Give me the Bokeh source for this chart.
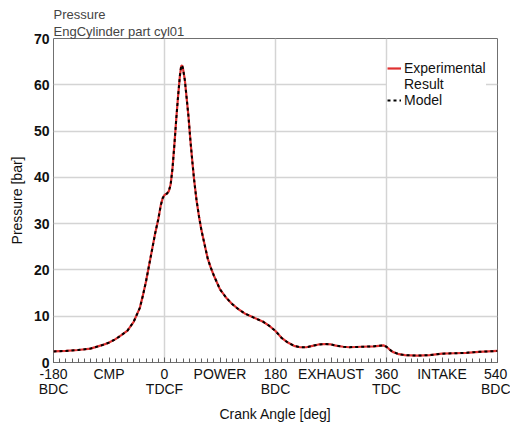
from bokeh.plotting import figure
from bokeh.models import FixedTicker, Legend, LegendItem, Range1d
from bokeh.embed import file_html
from bokeh.resources import INLINE

# Crank angle [deg] and pressure [bar]
crank_angle = [-180, -160, -140, -120, -100, -90, -80, -70, -60, -50, -40, -35, -30, -25,
               -20, -15, -10, -6, -3, 0, 4, 7, 10, 13, 16, 19, 22, 25, 27, 28.5, 30, 33,
               36, 39, 42, 45, 48, 52, 56, 60, 65, 70, 75, 80, 90, 100, 110, 120, 130, 140,
               150, 160, 170, 180, 190, 200, 210, 220, 230, 240, 250, 260, 270, 280, 290,
               300, 320, 340, 355, 360, 365, 370, 380, 390, 410, 430, 450, 470, 490, 510, 540]
experimental = [2.4, 2.5, 2.7, 3.0, 3.8, 4.3, 5.0, 5.9, 6.9, 8.8, 11.8, 14.5, 17.5, 21,
                24.5, 28, 31, 34, 35.5, 36.2, 36.5, 37, 38.5, 42, 47, 52.5, 57.5, 62, 64, 64.2, 63.5, 61,
                57, 53, 48, 43.6, 39.5, 35, 31.5, 28.5, 25.5, 22.5, 20.5, 18.8, 15.8, 14, 12.6, 11.5, 10.6, 10,
                9.4, 8.8, 7.9, 6.8, 5.3, 4.3, 3.6, 3.3, 3.3, 3.6, 3.9, 4.0, 3.9, 3.6, 3.4,
                3.3, 3.4, 3.5, 3.7, 3.4, 2.8, 2.3, 1.8, 1.6, 1.5, 1.6, 1.9, 2.0, 2.1, 2.3, 2.5]
model = [2.4, 2.5, 2.7, 3.0, 3.8, 4.3, 5.0, 5.9, 6.9, 8.8, 11.8, 14.5, 17.5, 21,
         24.5, 28, 31, 34, 35.5, 36.2, 36.5, 37, 38.5, 42, 47, 52.5, 57.5, 62, 64, 64.2, 63.5, 61,
         57, 53, 48, 43.6, 39.5, 35, 31.5, 28.5, 25.5, 22.5, 20.5, 18.8, 15.8, 14, 12.6, 11.5, 10.6, 10,
         9.4, 8.8, 7.9, 6.8, 5.3, 4.3, 3.6, 3.3, 3.3, 3.6, 3.9, 4.0, 3.9, 3.6, 3.4,
         3.3, 3.4, 3.5, 3.7, 3.4, 2.8, 2.3, 1.8, 1.6, 1.5, 1.6, 1.9, 2.0, 2.1, 2.3, 2.5]

x_ticks = [-180, -90, 0, 90, 180, 270, 360, 450, 540]
x_tick_labels = ["-180\nBDC", "CMP", "0\nTDCF", "POWER", "180\nBDC", "EXHAUST", "360\nTDC", "INTAKE", "540\nBDC"]
y_ticks = [0, 10, 20, 30, 40, 50, 60, 70]

FONT = "Liberation Sans"

p = figure(width=510, height=425, output_backend="svg", toolbar_location=None,
           x_range=Range1d(-180, 540), y_range=Range1d(0, 70),
           min_border_left=53, min_border_right=13, min_border_top=38, min_border_bottom=63,
           title="Pressure\nEngCylinder part cyl01")

p.title.text_font = FONT
p.title.text_font_size = "13px"
p.title.text_font_style = "normal"
p.title.text_color = "#444444"
p.title.align = "left"
p.title.offset = 0
p.title.standoff = 0
p.title.text_line_height = 1.1

p.outline_line_color = "#707070"
p.outline_line_width = 1
p.background_fill_color = "white"

# grids
p.xgrid.ticker = FixedTicker(ticks=[0, 180, 360])
p.ygrid.ticker = FixedTicker(ticks=[10, 20, 30, 40, 50, 60])
p.xgrid.grid_line_color = "#d4d4d4"
p.ygrid.grid_line_color = "#d4d4d4"
p.xgrid.grid_line_width = 1.5
p.ygrid.grid_line_width = 1.5

# x axis
xa = p.xaxis[0]
xa.ticker = FixedTicker(ticks=x_ticks, minor_ticks=list(range(-180, 541, 10)))
xa.major_label_overrides = {t: l for t, l in zip(x_ticks, x_tick_labels)}
xa.axis_line_color = None
xa.major_tick_in = 5
xa.major_tick_out = 0
xa.minor_tick_in = 4
xa.minor_tick_out = 0
xa.major_tick_line_color = "#606060"
xa.minor_tick_line_color = "#606060"
xa.major_label_text_font = FONT
xa.major_label_text_font_size = "14px"
xa.major_label_text_color = "#111111"
xa.major_label_text_line_height = 0.95
xa.major_label_standoff = 3
xa.axis_label = "Crank Angle [deg]"
xa.axis_label_text_font = FONT
xa.axis_label_text_font_size = "14px"
xa.axis_label_text_font_style = "normal"
xa.axis_label_text_color = "#111111"
xa.axis_label_standoff = 6

# y axis
ya = p.yaxis[0]
ya.ticker = FixedTicker(ticks=y_ticks)
ya.axis_line_color = None
ya.major_tick_in = 0
ya.major_tick_out = 0
ya.minor_tick_line_color = None
ya.major_label_text_font = FONT
ya.major_label_text_font_size = "14px"
ya.major_label_text_font_style = "bold"
ya.major_label_text_color = "#111111"
ya.major_label_standoff = 4
ya.axis_label = "Pressure [bar]"
ya.axis_label_text_font = FONT
ya.axis_label_text_font_size = "14px"
ya.axis_label_text_font_style = "normal"
ya.axis_label_text_color = "#111111"
ya.axis_label_standoff = 6

r_exp = p.line(crank_angle, experimental, line_color="#e03030", line_width=2.2)
r_mod = p.line(crank_angle, model, line_color="black", line_width=2, line_dash="3 3")
r_blank = p.line(x=[], y=[], line_alpha=0)  # second legend text line, no glyph

legend = Legend(items=[LegendItem(label="Experimental", renderers=[r_exp]),
                       LegendItem(label="Result", renderers=[r_blank]),
                       LegendItem(label="Model", renderers=[r_mod])],
                location=(334, 254))
legend.label_text_font = FONT
legend.label_text_font_size = "14px"
legend.label_text_color = "#111111"
legend.border_line_color = None
legend.background_fill_color = "white"
legend.background_fill_alpha = 1
legend.glyph_width = 14
legend.label_standoff = 3
legend.padding = 4
legend.spacing = 0
legend.margin = 0
legend.label_height = 16
legend.glyph_height = 16
p.add_layout(legend, "center")

open("out.html", "w").write(file_html(p, INLINE))
